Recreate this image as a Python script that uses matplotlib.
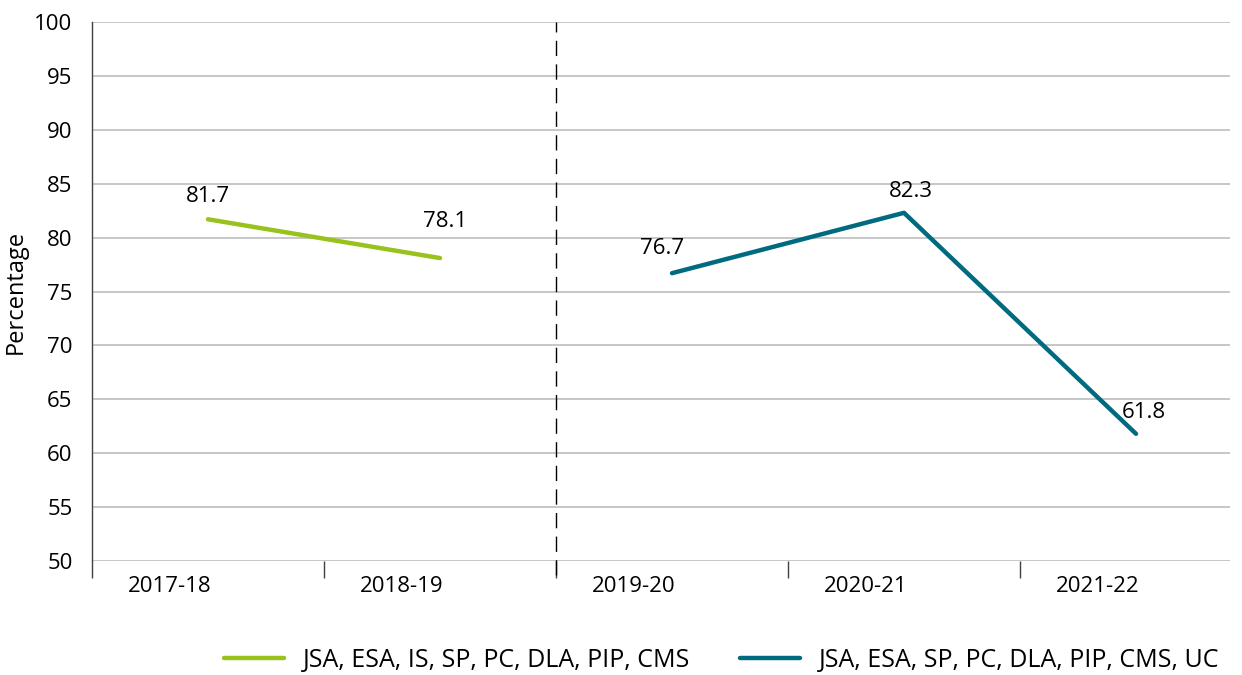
import matplotlib.pyplot as plt
from matplotlib.transforms import ScaledTranslation

plt.rcParams['font.family'] = ['Open Sans', 'DejaVu Sans']

# Data
years = ['2017-18', '2018-19', '2019-20', '2020-21', '2021-22']
old_label = 'JSA, ESA, IS, SP, PC, DLA, PIP, CMS'
new_label = 'JSA, ESA, SP, PC, DLA, PIP, CMS, UC'
old_idx = [0, 1]
old_vals = [81.7, 78.1]
new_idx = [2, 3, 4]
new_vals = [76.7, 82.3, 61.8]

green = '#99C21C'
teal = '#006A80'

fig = plt.figure(figsize=(12.42, 6.75), dpi=100)
ax = fig.add_axes([92 / 1242, 1 - 561 / 675, 1138 / 1242, 539 / 675])

ax.plot(old_idx, old_vals, color=green, lw=3.2, solid_capstyle='round', label=old_label)
ax.plot(new_idx, new_vals, color=teal, lw=3.2, solid_capstyle='round', label=new_label)

# series break
ax.axvline(1.5, ymin=-14 / 539, ymax=1, color='black', lw=1, dashes=(11, 6), clip_on=False)

# data labels (offsets in points)
offsets = {0: (0, 9, 'center'), 1: (-12, 19, 'left'), 2: (9, 10, 'right'),
           3: (-11, 8, 'left'), 4: (-10, 8, 'left')}
for i, v in zip(old_idx + new_idx, old_vals + new_vals):
    dx, dy, ha = offsets[i]
    ax.annotate(f'{v:.1f}', (i, v), textcoords='offset points', xytext=(dx, dy),
                ha=ha, va='bottom', fontsize=16)

ax.set_xlim(-0.5, -0.5 + 1138 / 232)
ax.set_ylim(50, 100)
ax.set_yticks(range(50, 101, 5))
ax.grid(axis='y', color='#BDBDBD', lw=1.2)
ax.set_axisbelow(True)

ax.set_xticks([-0.5, 0.5, 1.5, 2.5, 3.5])
ax.set_xticklabels([])
ax.tick_params(axis='x', which='major', length=12, width=1, color='#404040')
ax.set_xticks(range(len(years)), minor=True)
ax.set_xticklabels(years, minor=True, fontsize=16)
ax.tick_params(axis='x', which='minor', length=0, pad=11)
shift = ScaledTranslation(-38 / 100, 0, fig.dpi_scale_trans)
for lab in ax.get_xticklabels(minor=True):
    lab.set_transform(lab.get_transform() + shift)

ax.tick_params(axis='y', length=0, labelsize=16, pad=14)
ax.set_ylabel('Percentage', fontsize=17)
ax.yaxis.set_label_coords(-64 / 1138, 0.5)

for s in ['top', 'right', 'bottom']:
    ax.spines[s].set_visible(False)
ax.spines['left'].set_color('#404040')
ax.spines['left'].set_linewidth(1)

ax.legend(loc='center', bbox_to_anchor=(722 / 1242, 1 - 660 / 675),
          bbox_transform=fig.transFigure, ncol=2, frameon=False, fontsize=18,
          handlelength=2.4, columnspacing=2.0, handletextpad=0.75)

fig.savefig('out.png', dpi=100)
